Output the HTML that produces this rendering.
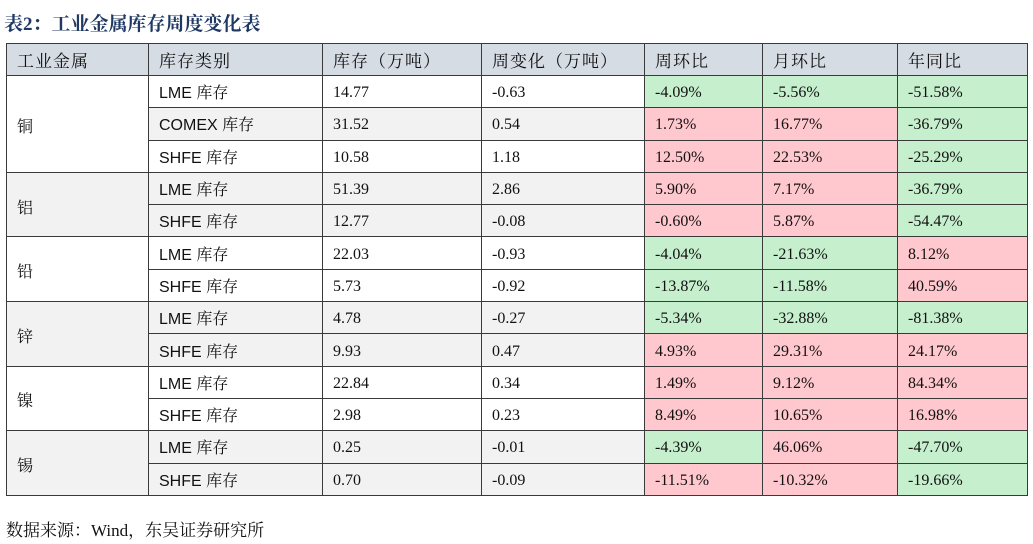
<!DOCTYPE html><html><head><meta charset="utf-8"><style>
body{margin:0;width:1033px;height:544px;background:#fff;position:relative;overflow:hidden;font-family:"Liberation Serif","Noto Serif CJK SC",serif}
.t{position:absolute;left:4px;top:9px;font:bold 19px "Liberation Serif","Noto Serif CJK SC",serif;color:#1f3864}
table{position:absolute;left:6px;top:43px;border-collapse:collapse;table-layout:fixed;width:1021px}
td{border:1.5px solid #3a3a3a;padding:3px 0 0 10px;font-size:16px;color:#111;height:32.3px;box-sizing:border-box}
tr.h td{background:#d6dce4;font-family:"Liberation Sans","Noto Serif CJK SC",serif;font-size:17px;height:32px;letter-spacing:1px;padding-top:0}
td.s{font-family:"Liberation Sans","Noto Sans CJK SC",sans-serif;padding-top:0}
.s span{font-family:"Noto Serif CJK SC",serif}
.g{background:#f2f2f2}
.p{background:#ffc7ce}.n{background:#c6efce}
.src{position:absolute;left:6px;top:516px;font-size:17px;color:#111}
</style></head><body>
<div class="t">表2：工业金属库存周度变化表</div>
<table>
<col style="width:142px"><col style="width:174px"><col style="width:159px"><col style="width:163px"><col style="width:118px"><col style="width:135px"><col style="width:130px">
<tr class="h"><td>工业金属</td><td>库存类别</td><td>库存（万吨）</td><td>周变化（万吨）</td><td>周环比</td><td>月环比</td><td>年同比</td></tr>
<tr><td rowspan="3">铜</td><td class="s">LME <span>库存</span></td><td>14.77</td><td>-0.63</td><td class="n">-4.09%</td><td class="n">-5.56%</td><td class="n">-51.58%</td></tr>
<tr class="g"><td class="s">COMEX <span>库存</span></td><td>31.52</td><td>0.54</td><td class="p">1.73%</td><td class="p">16.77%</td><td class="n">-36.79%</td></tr>
<tr><td class="s">SHFE <span>库存</span></td><td>10.58</td><td>1.18</td><td class="p">12.50%</td><td class="p">22.53%</td><td class="n">-25.29%</td></tr>
<tr class="g"><td rowspan="2">铝</td><td class="s">LME <span>库存</span></td><td>51.39</td><td>2.86</td><td class="p">5.90%</td><td class="p">7.17%</td><td class="n">-36.79%</td></tr>
<tr class="g"><td class="s">SHFE <span>库存</span></td><td>12.77</td><td>-0.08</td><td class="p">-0.60%</td><td class="p">5.87%</td><td class="n">-54.47%</td></tr>
<tr><td rowspan="2">铅</td><td class="s">LME <span>库存</span></td><td>22.03</td><td>-0.93</td><td class="n">-4.04%</td><td class="n">-21.63%</td><td class="p">8.12%</td></tr>
<tr><td class="s">SHFE <span>库存</span></td><td>5.73</td><td>-0.92</td><td class="n">-13.87%</td><td class="n">-11.58%</td><td class="p">40.59%</td></tr>
<tr class="g"><td rowspan="2">锌</td><td class="s">LME <span>库存</span></td><td>4.78</td><td>-0.27</td><td class="n">-5.34%</td><td class="n">-32.88%</td><td class="n">-81.38%</td></tr>
<tr class="g"><td class="s">SHFE <span>库存</span></td><td>9.93</td><td>0.47</td><td class="p">4.93%</td><td class="p">29.31%</td><td class="p">24.17%</td></tr>
<tr><td rowspan="2">镍</td><td class="s">LME <span>库存</span></td><td>22.84</td><td>0.34</td><td class="p">1.49%</td><td class="p">9.12%</td><td class="p">84.34%</td></tr>
<tr><td class="s">SHFE <span>库存</span></td><td>2.98</td><td>0.23</td><td class="p">8.49%</td><td class="p">10.65%</td><td class="p">16.98%</td></tr>
<tr class="g"><td rowspan="2">锡</td><td class="s">LME <span>库存</span></td><td>0.25</td><td>-0.01</td><td class="n">-4.39%</td><td class="p">46.06%</td><td class="n">-47.70%</td></tr>
<tr class="g"><td class="s">SHFE <span>库存</span></td><td>0.70</td><td>-0.09</td><td class="p">-11.51%</td><td class="p">-10.32%</td><td class="n">-19.66%</td></tr>
</table>
<div class="src">数据来源：Wind，东吴证券研究所</div>
</body></html>
